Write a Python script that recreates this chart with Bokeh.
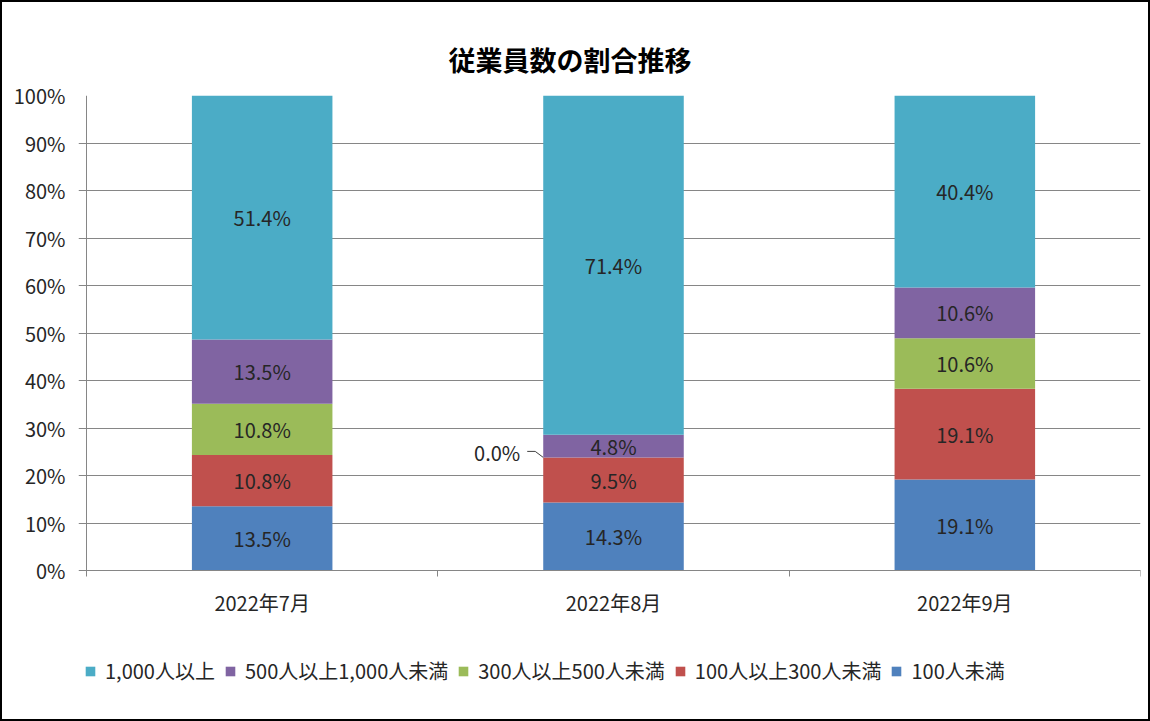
from bokeh.plotting import figure
from bokeh.models import FixedTicker, Range1d, Legend, LegendItem, ColumnDataSource, LinearAxis
from bokeh.core.properties import value
from bokeh.embed import file_html
from bokeh.resources import INLINE

# ---- data ----
chart_title = "従業員数の割合推移"
months = ["2022年7月", "2022年8月", "2022年9月"]
series_names = ["100人未満", "100人以上300人未満", "300人以上500人未満",
                "500人以上1,000人未満", "1,000人以上"]
under_100 = [13.51, 14.29, 19.14]
from_100_to_300 = [10.81, 9.52, 19.14]
from_300_to_500 = [10.81, 0.0, 10.64]
from_500_to_1000 = [13.51, 4.76, 10.64]
over_1000 = [51.36, 71.43, 40.44]
series_colors = ["#4F81BD", "#C0504D", "#9BBB59", "#8064A2", "#4BACC6"]
y_ticks = [0, 10, 20, 30, 40, 50, 60, 70, 80, 90, 100]

series_values = [under_100, from_100_to_300, from_300_to_500, from_500_to_1000, over_1000]

# ---- layout / styling (pixels) ----
FONT = "Noto Sans CJK JP"
GRID = "#868686"
TXT = "#262626"
FS = "20px"
W, H = 1150, 721
AXIS_X = 86          # pixel position of the value axis line
TICK = 8             # gridlines run this far left of the axis line (tick marks)
PLOT_RIGHT = 1140
PLOT_TOP = 95        # 100 %
PLOT_ZERO = 570      # 0 %
FRAME_BOTTOM = 711   # frame extends below 0 % to hold category labels and legend
BAR_W = 0.4

frame_left = AXIS_X - TICK
n = len(months)
px_per_x = (PLOT_RIGHT - AXIS_X) / n
px_per_y = (PLOT_ZERO - PLOT_TOP) / 100.0
x_start = -0.5 - TICK / px_per_x
x_end = n - 0.5
y_start = -(FRAME_BOTTOM - PLOT_ZERO) / px_per_y

xs = list(range(n))
keys = [f"s{i}" for i in range(len(series_names))]
data = {"x": xs}
for k, vals in zip(keys, series_values):
    data[k] = vals
src = ColumnDataSource(data)

p = figure(width=W, height=H, output_backend="svg", toolbar_location=None,
           x_range=Range1d(x_start, x_end), y_range=Range1d(y_start, 100),
           min_border_left=frame_left, min_border_right=W - PLOT_RIGHT,
           min_border_top=PLOT_TOP, min_border_bottom=H - FRAME_BOTTOM,
           background_fill_color="white", border_fill_color=None)
p.outline_line_color = None
p.styles = {"background-color": "white", "box-shadow": "inset 0 0 0 2px #000000"}

p.vbar_stack(keys, x="x", width=BAR_W, fill_color=series_colors, line_color=None, source=src)

# data labels
lx, ly, lt = [], [], []
zx, zy, zt = [], [], []
for i in xs:
    cum = 0.0
    for vals in series_values:
        v = vals[i]
        if v == 0:
            zx.append(i - BAR_W / 2)
            zy.append(cum)
            zt.append(f"{v:.1f}%")
        else:
            lx.append(i)
            ly.append(cum + v / 2)
            lt.append(f"{v:.1f}%")
        cum += v

p.text(x=lx, y=ly, text=lt, text_align="center", text_baseline="middle",
       text_font=value(FONT), text_font_size=FS, text_color=TXT)

# zero-value labels placed left of the bar with a leader line
dx = 1.0 / px_per_x
dy = 1.0 / px_per_y
for zxv, zyv, ztv in zip(zx, zy, zt):
    p.text(x=[zxv], y=[zyv], text=[ztv], text_align="right", text_baseline="middle",
           x_offset=-23, y_offset=-5,
           text_font=value(FONT), text_font_size=FS, text_color=TXT)
    p.line(x=[zxv - 16 * dx, zxv - 8 * dx, zxv],
           y=[zyv + 6 * dy, zyv + 6 * dy, zyv],
           line_color="#404040", line_width=1)

# category labels under the axis
p.text(x=xs, y=[0] * n, text=months, text_align="center", text_baseline="middle",
       y_offset=32, text_font=value(FONT), text_font_size=FS, text_color=TXT)

# value axis labels (axis at frame edge; gridlines extend to it like tick marks)
p.yaxis.ticker = FixedTicker(ticks=y_ticks)
p.yaxis.major_label_overrides = {t: f"{t}%" for t in y_ticks}
p.yaxis.axis_line_color = None
p.yaxis.major_tick_line_color = None
p.yaxis.major_tick_out = 0
p.yaxis.major_tick_in = 0
p.yaxis.minor_tick_line_color = None
p.yaxis.major_label_standoff = 13
p.yaxis.major_label_text_font = FONT
p.yaxis.major_label_text_font_size = FS
p.yaxis.major_label_text_color = TXT

# value axis line at the category start
vaxis = LinearAxis(fixed_location=-0.5, bounds=(0, 100), ticker=FixedTicker(ticks=[]),
                   axis_line_color=GRID, major_tick_line_color=None,
                   minor_tick_line_color=None, major_label_text_font_size="0px")
p.add_layout(vaxis, "left")

# category axis (tick marks between categories)
p.xaxis.fixed_location = 0
p.xaxis.bounds = (-0.5, n - 0.5)
p.xaxis.ticker = FixedTicker(ticks=[], minor_ticks=[x - 0.5 for x in xs] + [xs[-1] + 0.5])
p.xaxis.axis_line_color = GRID
p.xaxis.major_tick_line_color = None
p.xaxis.major_tick_out = 0
p.xaxis.major_tick_in = 0
p.xaxis.minor_tick_line_color = GRID
p.xaxis.minor_tick_out = 6
p.xaxis.minor_tick_in = 0
p.xaxis.major_label_text_font_size = "0px"

p.xgrid.grid_line_color = None
p.ygrid.grid_line_color = GRID
p.ygrid.grid_line_width = 1

# title
p.title.text = chart_title
p.title.align = "left"
p.title.offset = 370
p.title.standoff = 34
p.title.text_font = FONT
p.title.text_font_size = "27px"
p.title.text_font_style = "bold"
p.title.text_color = "#000000"

# legend (inside the extended frame, below the category labels)
items = []
for name, c in reversed(list(zip(series_names, series_colors))):
    r = p.scatter(x=[float("nan")], y=[float("nan")], marker="square",
                  fill_color=c, line_color=None, size=10)
    items.append(LegendItem(label=name, renderers=[r]))
legend = Legend(items=items, orientation="horizontal", location=(0, 26),
                glyph_width=24, glyph_height=24, label_height=24,
                label_standoff=3, spacing=3, padding=0, margin=0,
                border_line_color=None, background_fill_alpha=0,
                label_text_font=FONT, label_text_font_size=FS,
                label_text_color=TXT)
p.add_layout(legend)

open("out.html", "w").write(file_html(p, INLINE))
